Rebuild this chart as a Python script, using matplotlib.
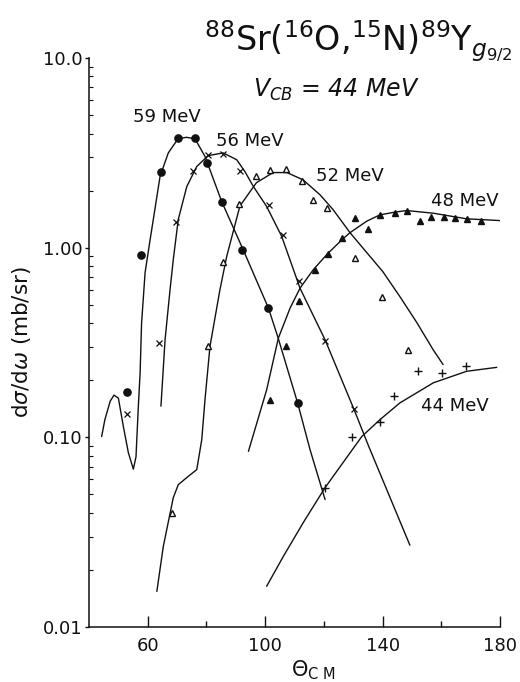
"""Angular distributions for 88Sr(16O,15N)89Y (g9/2) at five beam energies.

Measured points with the calculated curves drawn through them, on a
logarithmic cross-section scale.
"""

import matplotlib
matplotlib.use("Agg")
import matplotlib.pyplot as plt

# ============================================================================
# Measured cross sections (theta_cm in deg, dsigma/domega in mb/sr)
# ============================================================================

theta59 = [53.0, 57.7, 64.4, 70.4, 76.1, 80.1, 85.2, 92.0, 101.1, 111.1]
sigma59 = [0.173, 0.91, 2.51, 3.79, 3.79, 2.80, 1.74, 0.97, 0.48, 0.151]

theta56 = [52.8, 63.9, 69.7, 75.5, 80.6, 85.6, 91.4, 101.3, 106.1, 111.5, 120.4, 130.4]
sigma56 = [0.133, 0.314, 1.37, 2.53, 3.07, 3.13, 2.55, 1.67, 1.16, 0.666, 0.321, 0.141]

theta52 = [68.4, 80.6, 85.7, 91.2, 96.9, 101.6, 107.1, 112.4, 116.2, 121.0, 130.6, 139.7, 148.8]
sigma52 = [0.040, 0.304, 0.844, 1.69, 2.38, 2.58, 2.60, 2.24, 1.79, 1.62, 0.88, 0.55, 0.29]

theta48 = [101.6, 107.1, 111.6, 117.0, 121.5, 126.1, 130.6, 135.1, 139.1, 144.2,
           148.2, 152.7, 156.4, 160.9, 164.7, 168.9, 173.5]
sigma48 = [0.157, 0.302, 0.521, 0.765, 0.93, 1.13, 1.44, 1.25, 1.49, 1.52,
           1.57, 1.39, 1.45, 1.46, 1.44, 1.42, 1.39]

theta44 = [120.4, 129.7, 139.1, 143.8, 152.2, 160.1, 168.4]
sigma44 = [0.054, 0.100, 0.121, 0.165, 0.224, 0.218, 0.237]

# ============================================================================
# Calculated curves
# ============================================================================

fit59_theta = [44.3, 45.4, 47.2, 48.5, 50.0, 51.7, 53.4, 55.1, 56.0, 56.8, 57.4,
               57.9, 59.1, 60.8, 61.9, 64.2, 67.0, 70.3, 73.2, 76.1, 79.5, 85.2,
               92.5, 101.1, 104.4, 111.1, 115.3, 120.4]
fit59_sigma = [0.101, 0.124, 0.155, 0.167, 0.161, 0.114, 0.083, 0.068, 0.079, 0.146, 0.218,
               0.40, 0.74, 1.10, 1.41, 2.38, 3.16, 3.75, 3.82, 3.75, 3.03, 1.75,
               0.976, 0.481, 0.335, 0.151, 0.086, 0.047]

fit56_theta = [64.5, 65.9, 67.6, 68.7, 70.4, 73.3, 76.7, 80.6, 85.7, 90.3, 93.1,
               96.0, 100.5, 105.6, 111.9, 120.4, 130.3, 135.1, 149.3]
fit56_sigma = [0.146, 0.327, 0.601, 0.865, 1.41, 2.10, 2.68, 3.06, 3.16, 2.91, 2.52,
               2.10, 1.65, 1.15, 0.61, 0.327, 0.140, 0.091, 0.027]

fit52_theta = [63.1, 65.3, 68.7, 70.4, 73.8, 76.7, 78.4, 79.5, 81.2, 84.6, 86.9,
               91.4, 97.0, 102.7, 107.4, 112.9, 118.7, 123.1, 128.9, 140.1, 145.9,
               151.7, 157.2, 160.6]
fit52_sigma = [0.0154, 0.0266, 0.0481, 0.0563, 0.0623, 0.0676, 0.0973, 0.158, 0.302, 0.601, 0.900,
               1.66, 2.20, 2.49, 2.49, 2.28, 1.90, 1.59, 1.20, 0.747, 0.552,
               0.402, 0.290, 0.242]

fit48_theta = [94.3, 100.5, 104.5, 108.5, 111.9, 116.4, 121.1, 126.1, 128.9, 134.6,
               139.1, 144.2, 148.2, 157.3, 168.6, 180.0]
fit48_sigma = [0.0844, 0.178, 0.334, 0.481, 0.613, 0.766, 0.924, 1.10, 1.20, 1.38,
               1.49, 1.54, 1.57, 1.52, 1.42, 1.39]

fit44_theta = [100.5, 106.2, 113.2, 120.4, 132.9, 139.1, 145.9, 157.3, 168.6, 178.9]
fit44_sigma = [0.0164, 0.0236, 0.036, 0.0543, 0.101, 0.124, 0.152, 0.194, 0.223, 0.234]

# Energy labels: (text, theta, sigma)
energy_labels = [
    ("59 MeV", 66.6, 4.90),
    ("56 MeV", 94.8, 3.66),
    ("52 MeV", 128.9, 2.40),
    ("48 MeV", 168.1, 1.77),
    ("44 MeV", 164.7, 0.147),
]

y_ticks = [0.01, 0.1, 1.0, 10.0]
y_tick_labels = ["0.01", "0.10", "1.00", "10.0"]
x_ticks = [60, 100, 140, 180]
x_minor_ticks = [80, 120, 160]

# ============================================================================
# Figure
# ============================================================================

INK = "#111111"
LW = 1.0

fig = plt.figure(figsize=(5.2, 6.82), dpi=100)
ax = fig.add_axes([0.1712, 0.0806, 0.7904, 0.8343])

# curves
for th, sg in [(fit59_theta, fit59_sigma), (fit56_theta, fit56_sigma),
               (fit52_theta, fit52_sigma), (fit48_theta, fit48_sigma),
               (fit44_theta, fit44_sigma)]:
    ax.plot(th, sg, color=INK, lw=LW, solid_joinstyle="round",
            solid_capstyle="round")

# data points
ax.plot(theta59, sigma59, "o", ms=5.2, color=INK, ls="none")
ax.plot(theta56, sigma56, "x", ms=4, mew=0.9, color=INK, ls="none")
ax.plot(theta52, sigma52, "^", ms=4.5, mew=1.0, mfc="white", mec=INK, ls="none")
ax.plot(theta48, sigma48, "^", ms=4.5, color=INK, ls="none")
ax.plot(theta44, sigma44, "+", ms=6, mew=1.0, color=INK, ls="none")

for txt, th, sg in energy_labels:
    ax.text(th, sg, txt, fontsize=13, ha="center", va="center", color=INK)

# axes
ax.set_yscale("log")
ax.set_xlim(40, 180)
ax.set_ylim(0.01, 10)

for side in ("top", "right"):
    ax.spines[side].set_visible(False)
for side in ("left", "bottom"):
    ax.spines[side].set_linewidth(1.1)
    ax.spines[side].set_color(INK)

ax.set_yticks(y_ticks)
ax.set_yticklabels(y_tick_labels)
ax.set_xticks(x_ticks)
ax.set_xticks(x_minor_ticks, minor=True)

ax.tick_params(axis="y", which="major", direction="out", length=3, width=1.0,
               pad=1.5, labelsize=13, colors=INK)
ax.tick_params(axis="y", which="minor", direction="in", length=3, width=0.8,
               colors=INK)
ax.tick_params(axis="x", which="major", direction="in", length=8, width=1.0,
               pad=7, labelsize=13, colors=INK)
ax.tick_params(axis="x", which="minor", direction="in", length=4, width=1.0,
               colors=INK)

fig.text(0.042, 0.4985, r"d$\sigma$/d$\omega$ (mb/sr)", rotation=90,
         ha="center", va="center", fontsize=15.5, color=INK)
fig.text(0.602, 0.0176, r"$\Theta_{\mathrm{C\ M}}$", ha="center", va="center",
         fontsize=15, color=INK)

# reaction and Coulomb barrier
fig.text(0.985, 0.925, r"$^{88}$Sr($^{16}$O,$^{15}$N)$^{89}$Y$_{g_{9/2}}$",
         ha="right", va="baseline", fontsize=24, color=INK)
fig.text(0.487, 0.858, r"$V_{CB}$ = 44 MeV", ha="left", va="baseline",
         fontsize=17, style="italic", color=INK)

fig.savefig("out.png", dpi=100, facecolor="white")
